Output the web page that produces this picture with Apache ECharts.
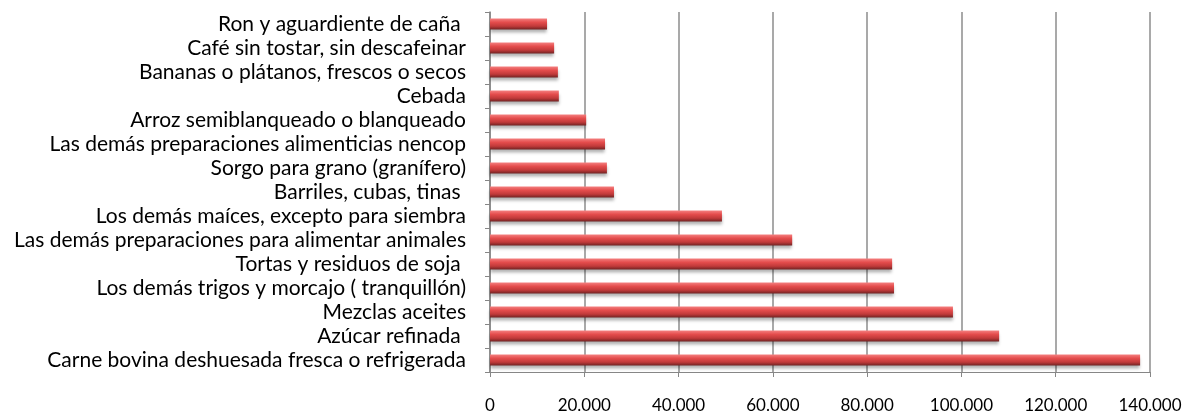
<!DOCTYPE html>
<html>
<head>
<meta charset="utf-8">
<script src="https://cdn.jsdelivr.net/npm/echarts@6/dist/echarts.min.js"></script>
<style>
	html, body { margin: 0; padding: 0; background: #fff; }
	#main { width: 1188px; height: 416px; }
</style>
</head>
<body>
<div id="main"></div>
<script>
	// categories, top to bottom as in the picture
	var categories = [
		'Ron y aguardiente de caña ',
		'Café sin tostar, sin descafeinar',
		'Bananas o plátanos, frescos o secos',
		'Cebada',
		'Arroz semiblanqueado o blanqueado',
		'Las demás preparaciones alimenticias nencop',
		'Sorgo para grano (granífero)',
		'Barriles, cubas, tinas ',
		'Los demás maíces, excepto para siembra',
		'Las demás preparaciones para alimentar animales',
		'Tortas y residuos de soja ',
		'Los demás trigos y morcajo ( tranquillón)',
		'Mezclas aceites',
		'Azúcar refinada ',
		'Carne bovina deshuesada fresca o refrigerada'
	]
	var values = [12100, 13600, 14400, 14600, 20400, 24400, 24800, 26300, 49200, 64100, 85300, 85700, 98200, 108000, 137900]
	var xTicks = { min: 0, max: 140000, interval: 20000 }

	var chart = echarts.init(document.getElementById('main'))
	chart.setOption({
		animation: false,
		grid: {
			left: 490,
			right: 38,
			top: 12,
			bottom: 44
		},
		xAxis: {
			type: 'value',
			min: xTicks.min,
			max: xTicks.max,
			interval: xTicks.interval,
			axisLine: { show: true, lineStyle: { color: '#868686', width: 1 } },
			axisTick: { show: true, length: 5, lineStyle: { color: '#868686' } },
			splitLine: { show: true, lineStyle: { color: '#8c8c8c', width: 1.5 } },
			axisLabel: {
				color: '#000',
				fontFamily: 'Lato',
				fontSize: 17,
				margin: 25,
				formatter: function (v) {
					return String(v).replace(/\B(?=(\d{3})+(?!\d))/g, '.')
				}
			}
		},
		yAxis: {
			type: 'category',
			inverse: true,
			data: categories,
			axisLine: { show: true, lineStyle: { color: '#868686', width: 1.5 } },
			axisTick: { show: true, length: 5, lineStyle: { color: '#868686' } },
			axisLabel: {
				color: '#000',
				fontFamily: 'Lato',
				fontSize: 21,
				margin: 24,
				interval: 0,
				hideOverlap: false
			}
		},
		series: [{
			type: 'bar',
			data: values,
			barWidth: 11,
			itemStyle: {
				color: new echarts.graphic.LinearGradient(0, 0, 0, 1, [
					{ offset: 0, color: '#f48080' },
					{ offset: 0.35, color: '#e44c4c' },
					{ offset: 0.7, color: '#c03a3a' },
					{ offset: 1, color: '#702222' }
				]),
				shadowColor: 'rgba(0,0,0,0.3)',
				shadowBlur: 3,
				shadowOffsetY: 3
			}
		}]
	})
</script>
</body>
</html>
